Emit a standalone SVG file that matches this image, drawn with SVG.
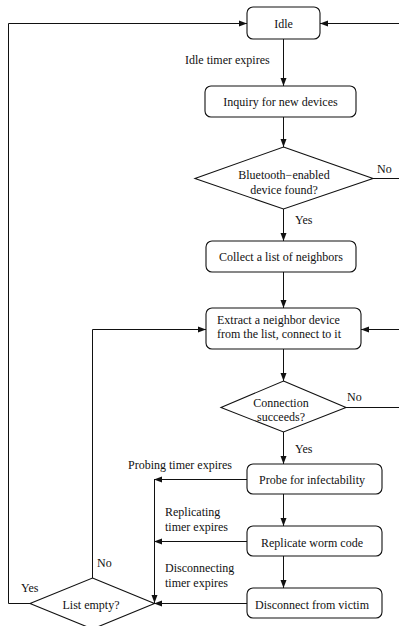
<svg xmlns="http://www.w3.org/2000/svg" width="399" height="626" viewBox="0 0 399 626">
<style>
  .box { fill: #fff; stroke: #111; stroke-width: 1.1; }
  .dia { fill: #fff; stroke: #111; stroke-width: 1.1; }
  .t { font-family: "Liberation Serif", "Times New Roman", serif; font-size: 12px; fill: #111; }
  .c { text-anchor: middle; }
  .edge { fill: none; stroke: #111; stroke-width: 1; }
</style>
<defs>
  <marker id="arr" markerUnits="userSpaceOnUse" markerWidth="9" markerHeight="7" refX="8" refY="3.5" orient="auto">
    <path d="M0,0.5 L8,3.5 L0,6.5 z" fill="#111"/>
  </marker>
</defs>

<g id="connectors">
  <path class="edge" d="M283.5,39 V86" marker-end="url(#arr)"/>
  <path class="edge" d="M283.5,117 V147" marker-end="url(#arr)"/>
  <path class="edge" d="M283.5,209 V241" marker-end="url(#arr)"/>
  <path class="edge" d="M373,178.5 H403 V23.5 H320" marker-end="url(#arr)"/>
  <path class="edge" d="M283.5,272 V308" marker-end="url(#arr)"/>
  <path class="edge" d="M283.5,349 V381" marker-end="url(#arr)"/>
  <path class="edge" d="M346,407.5 H403 V329.5 H361" marker-end="url(#arr)"/>
  <path class="edge" d="M283.5,432 V464" marker-end="url(#arr)"/>
  <path class="edge" d="M283.5,494 V526" marker-end="url(#arr)"/>
  <path class="edge" d="M283.5,556 V588" marker-end="url(#arr)"/>
  <path class="edge" d="M247,479.5 H154" marker-end="url(#arr)"/>
  <path class="edge" d="M247,541.5 H154" marker-end="url(#arr)"/>
  <path class="edge" d="M247,603.5 H154" marker-end="url(#arr)"/>
  <path class="edge" d="M154.5,479.5 V603" marker-end="url(#arr)"/>
  <path class="edge" d="M92.5,578 V329.5 H206" marker-end="url(#arr)"/>
  <path class="edge" d="M30,603.5 H8.5 V23.5 H247" marker-end="url(#arr)"/>
</g>

<g id="idle">
  <rect class="box" x="247" y="7" width="73" height="32" rx="6"/>
  <text class="t c" x="283.5" y="28">Idle</text>
</g>
<g id="inquiry">
  <rect class="box" x="205" y="86" width="151" height="31" rx="6"/>
  <text class="t c" x="280.5" y="106">Inquiry for new devices</text>
</g>
<g id="found">
  <polygon class="dia" points="283.5,147 373,178.5 283.5,209 195,178.5"/>
  <text class="t c" x="284" y="179">Bluetooth−enabled</text>
  <text class="t c" x="284" y="194">device found?</text>
</g>
<g id="collect">
  <rect class="box" x="206" y="241" width="150" height="31" rx="6"/>
  <text class="t c" x="281" y="261">Collect a list of neighbors</text>
</g>
<g id="extract">
  <rect class="box" x="206" y="308" width="155" height="41" rx="6"/>
  <text class="t" x="217" y="324">Extract a neighbor device</text>
  <text class="t" x="217" y="338">from the list, connect to it</text>
</g>
<g id="conn">
  <polygon class="dia" points="283.5,381 346,407.5 283.5,432 221,407.5"/>
  <text class="t c" x="281" y="407">Connection</text>
  <text class="t c" x="281" y="421">succeeds?</text>
</g>
<g id="probe">
  <rect class="box" x="247" y="464" width="135" height="30" rx="6"/>
  <text class="t c" x="312" y="484">Probe for infectability</text>
</g>
<g id="replicate">
  <rect class="box" x="247" y="526" width="135" height="30" rx="6"/>
  <text class="t c" x="312" y="547">Replicate worm code</text>
</g>
<g id="disconnect">
  <rect class="box" x="247" y="588" width="135" height="30" rx="6"/>
  <text class="t c" x="312" y="609">Disconnect from victim</text>
</g>
<g id="listempty">
  <polygon class="dia" points="92.5,578 154.5,603.5 92.5,629 30,603.5"/>
  <text class="t c" x="91" y="609">List empty?</text>
</g>

<g id="labels">
  <text class="t" x="185" y="64">Idle timer expires</text>
  <text class="t" x="377" y="173">No</text>
  <text class="t" x="295" y="224">Yes</text>
  <text class="t" x="347" y="401">No</text>
  <text class="t" x="295" y="453">Yes</text>
  <text class="t" x="128" y="469">Probing timer expires</text>
  <text class="t" x="165" y="516">Replicating</text>
  <text class="t" x="165" y="531">timer expires</text>
  <text class="t" x="165" y="572">Disconnecting</text>
  <text class="t" x="165" y="587">timer expires</text>
  <text class="t" x="97" y="567">No</text>
  <text class="t" x="21" y="592">Yes</text>
</g>
</svg>
